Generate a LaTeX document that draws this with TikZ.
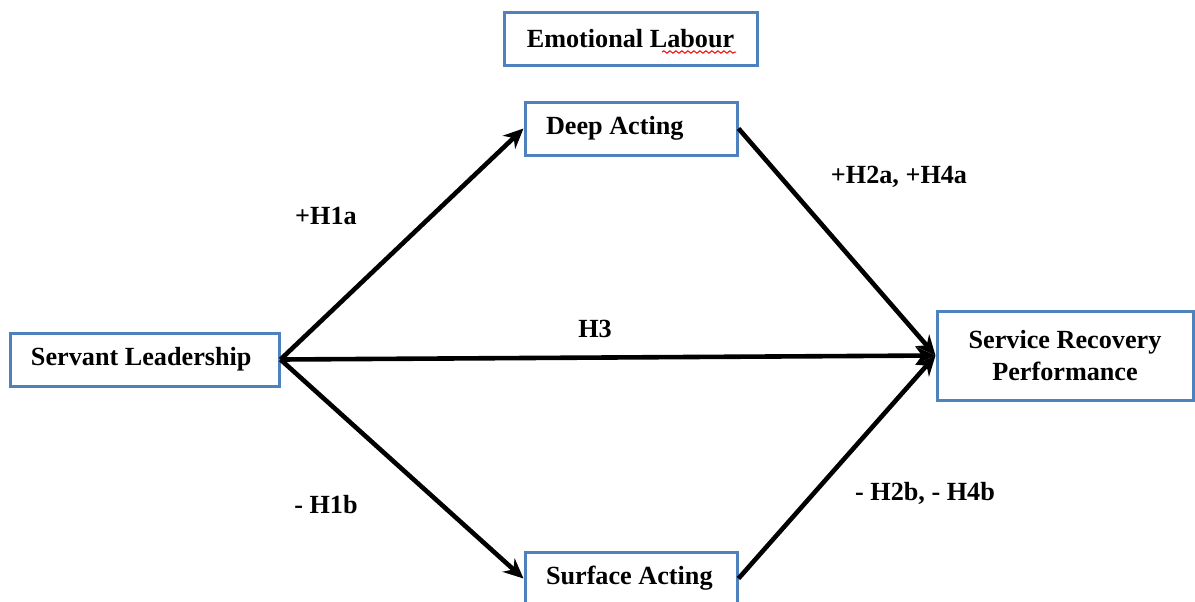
\documentclass[tikz,border=0pt]{standalone}
\usepackage{fontspec}
\setmainfont{Liberation Serif}
\usetikzlibrary{arrows.meta,decorations.pathmorphing}
\definecolor{boxblue}{RGB}{79,129,189}
\newcommand{\lbox}[2]{\makebox[#1][l]{#2}}
\begin{document}
\begin{tikzpicture}[x=0.5pt,y=-0.5pt]
        \tikzstyle{construct}=[draw=boxblue,line width=1.5pt,fill=white,inner xsep=10.5pt,inner ysep=0pt,minimum height=26.5pt,font=\fontsize{13.1}{16}\selectfont\bfseries,align=center]
        \tikzstyle{hyp}=[font=\fontsize{13.1}{16}\selectfont\bfseries]
        \tikzstyle{link}=[black,line width=2.3pt,-{Stealth[length=10pt,width=9pt]}]

        \useasboundingbox (0,0) rectangle (1195,601);

        % constructs
        \node [construct,minimum width=126.5pt] (el) at (630.5,38.5) {Emotional Labour};
        \node [construct] (da) at (631,128.5) {\lbox{85pt}{Deep Acting}};
        \node [construct] (sa) at (631,578.5) {\lbox{85pt}{Surface Acting}};
        \node [construct] (sl) at (144.5,359.5) {\lbox{113.5pt}{Servant Leadership}};
        \node [construct,minimum width=128pt,minimum height=44.5pt] (srp) at (1065,355.5) {Service Recovery\\Performance};

        % spell-check mark
        \draw [red,line width=0.5pt,decorate,decoration={snake,amplitude=0.6pt,segment length=3pt}] (662,52) -- (736,52);

        % paths
        \draw [link] (sl.east) -- (da.west);
        \draw [link] (sl.east) -- (sa.west);
        \draw [link] (sl.east) -- (srp.west);
        \draw [link] (da.east) -- (srp.west);
        \draw [link] (sa.east) -- (srp.west);

        % hypotheses
        \node [hyp] (h1a) at (326,216) {+H1a};
        \node [hyp] (h1b) at (326,505) {- H1b};
        \node [hyp] (h3) at (595,329) {H3};
        \node [hyp] (h2a) at (899,177) {+H2a, +H4a};
        \node [hyp] (h2b) at (925,493) {- H2b, - H4b};
\end{tikzpicture}
\end{document}
